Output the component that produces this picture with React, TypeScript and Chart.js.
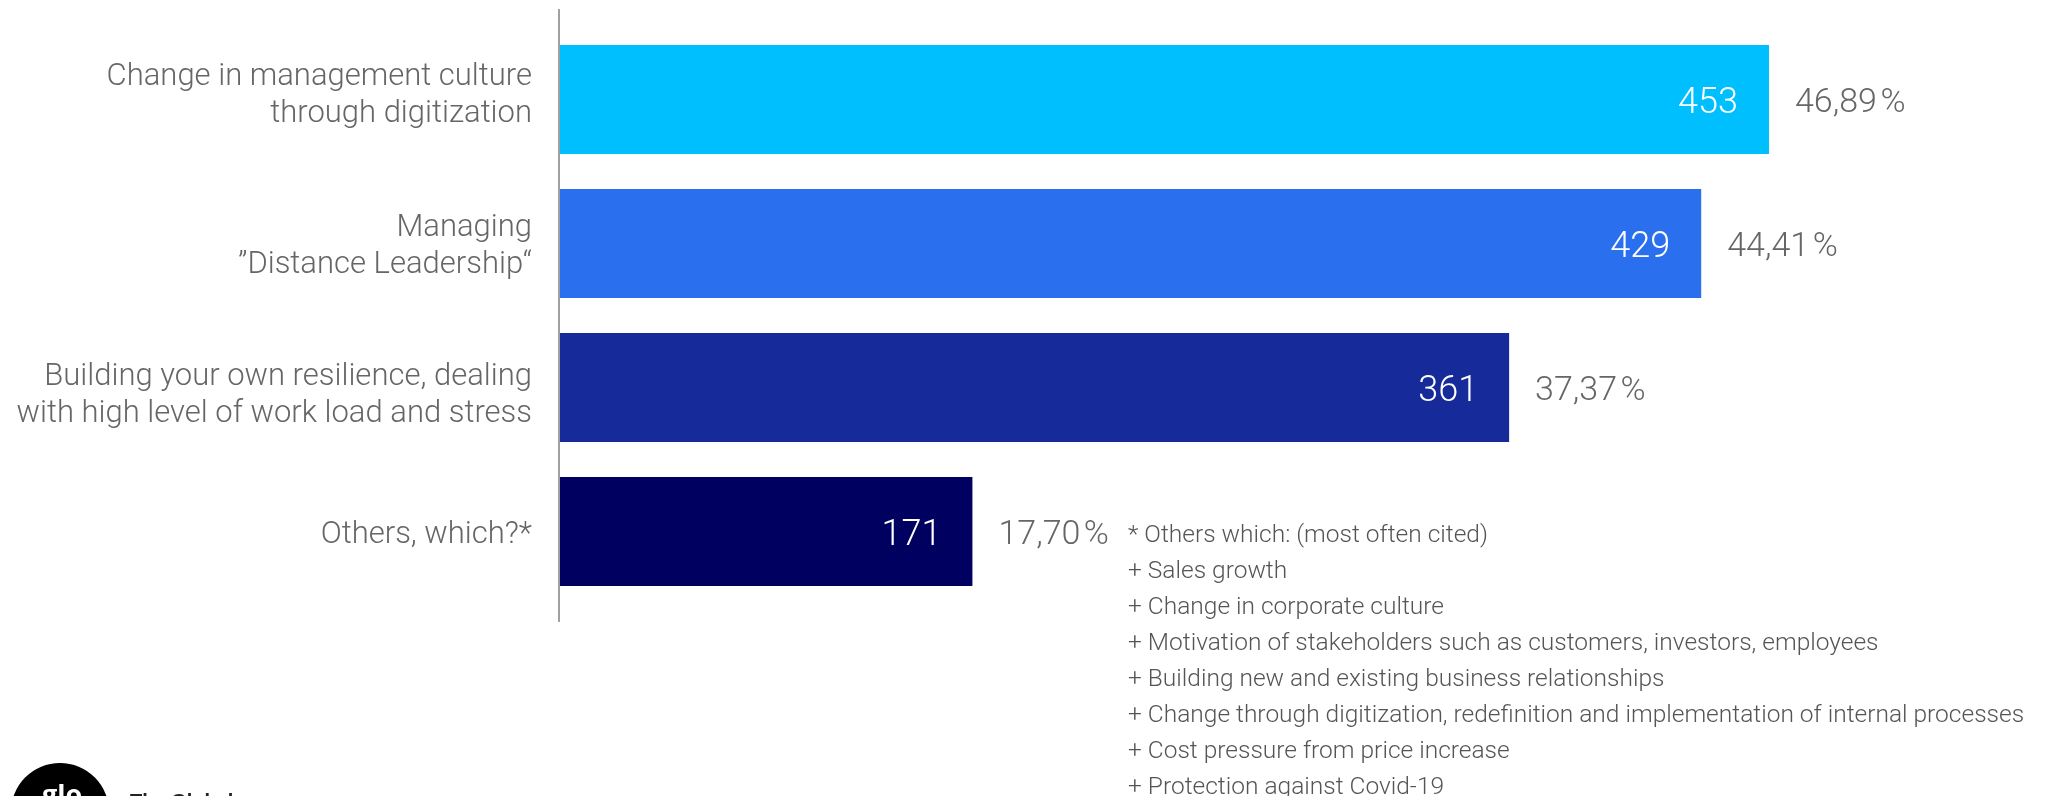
import React, { useEffect, useRef } from "react";
import { Chart, registerables } from "chart.js";

Chart.register(...registerables);

const categories: string[][] = [
  ["Change in management culture", "through digitization"],
  ["Managing", "\u201DDistance Leadership\u201C"],
  ["Building your own resilience, dealing", "with high level of work load and stress"],
  ["Others, which?*"],
];

const counts: number[] = [453, 429, 361, 171];
const percents: string[] = ["46,89", "44,41", "37,37", "17,70"];
const barColors: string[] = ["#00BFFF", "#296FEE", "#172A9A", "#000060"];

const footnoteLines: string[] = [
  "* Others which: (most often cited)",
  "+ Sales growth",
  "+ Change in corporate culture",
  "+ Motivation of stakeholders such as customers, investors, employees",
  "+ Building new and existing business relationships",
  "+ Change through digitization, redefinition and implementation of internal processes",
  "+ Cost pressure from price increase",
  "+ Protection against Covid-19",
];

// the value axis is hidden and truncated, as in the original design
const xMin = 25;

const FONT = "Roboto, 'Liberation Sans', sans-serif";
// small vertical nudges of the category labels (style, px)
const labelNudge: number[] = [-7, 0, 5, 0];

const labelsPlugin = {
  id: "customLabels",
  afterDraw(chart: any) {
    const ctx: CanvasRenderingContext2D = chart.ctx;
    const area = chart.chartArea;
    const meta = chart.getDatasetMeta(0);
    const step = meta.data.length > 1 ? meta.data[1].y - meta.data[0].y : 144;
    ctx.save();

    // vertical axis line
    ctx.fillStyle = "#a0a0a0";
    const ext = step * 0.128;
    ctx.fillRect(area.left - 2, area.top - ext, 2, area.bottom - area.top + 2 * ext);

    meta.data.forEach((bar: any, i: number) => {
      // category labels
      const lines = categories[i];
      ctx.font = `300 31px ${FONT}`;
      ctx.fillStyle = "#666666";
      ctx.textAlign = "right";
      ctx.textBaseline = "alphabetic";
      const lh = 37.5;
      lines.forEach((ln, j) => {
        const y = bar.y + labelNudge[i] + (j - (lines.length - 1) / 2) * lh + 11;
        ctx.fillText(ln, area.left - 28, y);
      });

      // value inside bar
      ctx.font = `300 36px ${FONT}`;
      ctx.fillStyle = "#ffffff";
      ctx.textAlign = "right";
      ctx.fillText(String(counts[i]), bar.x - 31, bar.y + 13);

      // percent outside bar
      ctx.font = `300 34px ${FONT}`;
      ctx.fillStyle = "#666666";
      ctx.textAlign = "left";
      ctx.fillText(percents[i] + "\u200A%", bar.x + 26, bar.y + 12.5);
    });

    // footnote
    const last = meta.data[meta.data.length - 1];
    ctx.font = `300 24.5px ${FONT}`;
    ctx.fillStyle = "#555555";
    ctx.textAlign = "left";
    footnoteLines.forEach((ln, k) => {
      ctx.fillText(ln, 1128, last.y + 1.5 + k * 36 + 8.5);
    });

    // logo (partially visible at bottom-left)
    ctx.fillStyle = "#000000";
    ctx.beginPath();
    ctx.arc(60, 812, 49, 0, Math.PI * 2);
    ctx.fill();
    ctx.fillStyle = "#ffffff";
    ctx.textAlign = "center";
    ctx.font = `bold 27px 'Open Sans', sans-serif`;
    ctx.fillText("glo", 62, 804);
    ctx.fillStyle = "#222222";
    ctx.textAlign = "left";
    ctx.textBaseline = "top";
    ctx.font = `bold 20px 'Liberation Sans', sans-serif`;
    ctx.fillText("The Global", 130, 792);

    ctx.restore();
  },
};

export default function App() {
  const ref = useRef<HTMLCanvasElement | null>(null);

  useEffect(() => {
    if (!ref.current) return;
    const chart = new Chart(ref.current, {
      type: "bar",
      data: {
        labels: categories.map((c) => c.join(" ")),
        datasets: [
          {
            data: counts,
            backgroundColor: barColors,
            borderWidth: 0,
            barPercentage: 0.757,
            categoryPercentage: 1,
          },
        ],
      },
      options: {
        indexAxis: "y",
        responsive: false,
        animation: false,
        devicePixelRatio: 1,
        layout: { padding: { left: 560, right: 276, top: 27.5, bottom: 192.5 } },
        plugins: {
          legend: { display: false },
          tooltip: { enabled: false },
          title: { display: false },
        },
        scales: {
          x: { display: false, min: xMin, max: Math.max(...counts), grid: { display: false } },
          y: { display: false, grid: { display: false } },
        },
      },
      plugins: [labelsPlugin],
    });
    return () => chart.destroy();
  }, []);

  return (
    <div
      style={{
        position: "fixed",
        left: 0,
        top: 0,
        width: 2045,
        height: 796,
        overflow: "hidden",
        background: "#ffffff",
      }}
    >
      <canvas ref={ref} width={2045} height={796} style={{ display: "block" }} />
    </div>
  );
}
